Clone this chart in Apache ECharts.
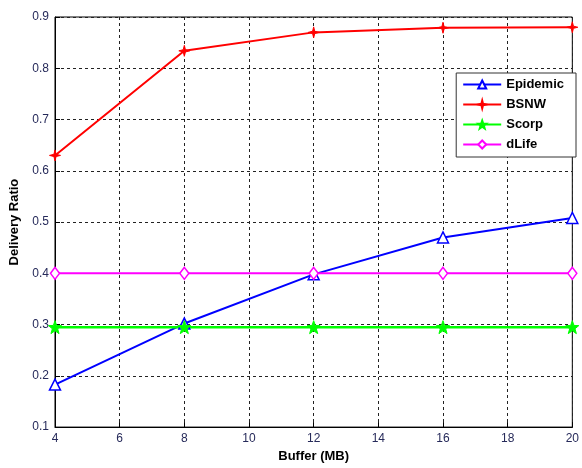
<!DOCTYPE html>
<html><head><meta charset="utf-8">
<script src="https://cdn.jsdelivr.net/npm/echarts@6/dist/echarts.min.js"></script>
<style>html,body{margin:0;padding:0;background:#fff}#c{width:582px;height:468px}</style>
</head><body><div id="c"></div>
<script>
const xValues = [4, 8, 12, 16, 20];
const epidemic = [0.183, 0.302, 0.398, 0.470, 0.508];
const bsnw = [0.630, 0.834, 0.870, 0.879, 0.880];
const scorp = [0.295, 0.295, 0.295, 0.295, 0.295];
const dlife = [0.400, 0.400, 0.400, 0.400, 0.400];
const seriesNames = ['Epidemic', 'BSNW', 'Scorp', 'dLife'];

const pair = arr => xValues.map((x, i) => [x, arr[i]]);
const starPath = 'path://M0,-10 L2.4,-3.3 L9.5,-3.1 L3.9,1.3 L5.9,8.1 L0,4.1 L-5.9,8.1 L-3.9,1.3 L-9.5,-3.1 L-2.4,-3.3 Z';
const plusStar = 'path://M0,-10 L2,-2 L10,0 L2,2 L0,10 L-2,2 L-10,0 L-2,-2 Z';
const font = 'Arial, "Liberation Sans", sans-serif';

const chart = echarts.init(document.getElementById('c'));
chart.setOption({
  animation: false,
  backgroundColor: '#fff',
  grid: {left: 54, right: 6, top: 17, bottom: 37, show: true, borderColor: '#000', borderWidth: 1},
  legend: {
    right: 6, top: 73, orient: 'vertical', itemWidth: 38, itemHeight: 10, itemGap: 7,
    backgroundColor: '#fff', borderColor: '#333', borderWidth: 1, padding: [5, 12, 6, 6],
    textStyle: {fontFamily: font, fontWeight: 'bold', fontSize: 13, color: '#000'},
    data: seriesNames
  },
  xAxis: {
    type: 'value', min: 4, max: 20, interval: 2,
    name: 'Buffer (MB)', nameLocation: 'middle', nameGap: 21,
    nameTextStyle: {fontFamily: font, fontWeight: 'bold', fontSize: 13, color: '#000'},
    axisLine: {lineStyle: {color: '#000', width: 1}},
    axisTick: {inside: true, length: 5, lineStyle: {color: '#000'}},
    axisLabel: {fontFamily: font, fontSize: 12, color: '#262a5a', margin: 6},
    splitLine: {show: true, lineStyle: {color: '#222', type: [3, 3], width: 1}}
  },
  yAxis: {
    type: 'value', min: 0.1, max: 0.9, interval: 0.1,
    name: 'Delivery Ratio', nameLocation: 'middle', nameGap: 34,
    nameTextStyle: {fontFamily: font, fontWeight: 'bold', fontSize: 13, color: '#000'},
    axisLine: {lineStyle: {color: '#000', width: 1}},
    axisTick: {inside: true, length: 5, lineStyle: {color: '#000'}},
    axisLabel: {fontFamily: font, fontSize: 12, color: '#262a5a', margin: 6, formatter: v => v.toFixed(1)},
    splitLine: {show: true, lineStyle: {color: '#222', type: [3, 3], width: 1}}
  },
  series: [
    {name: 'Epidemic', type: 'line', data: pair(epidemic), symbol: 'triangle', symbolSize: 11,
     lineStyle: {color: '#0000ff', width: 2}, itemStyle: {color: '#fff', borderColor: '#0000ff', borderWidth: 1.5}},
    {name: 'BSNW', type: 'line', data: pair(bsnw), symbol: plusStar, symbolSize: 11,
     lineStyle: {color: '#ff0000', width: 2}, itemStyle: {color: '#ff0000', borderColor: '#ff0000', borderWidth: 1}},
    {name: 'Scorp', type: 'line', data: pair(scorp), symbol: starPath, symbolSize: 13,
     lineStyle: {color: '#00ff00', width: 2.5}, itemStyle: {color: '#00ff00', borderColor: '#00ff00', borderWidth: 1}},
    {name: 'dLife', type: 'line', data: pair(dlife), symbol: 'diamond', symbolSize: [9, 12],
     lineStyle: {color: '#ff00ff', width: 2}, itemStyle: {color: '#fff', borderColor: '#ff00ff', borderWidth: 1.5}}
  ]
});
</script></body></html>
